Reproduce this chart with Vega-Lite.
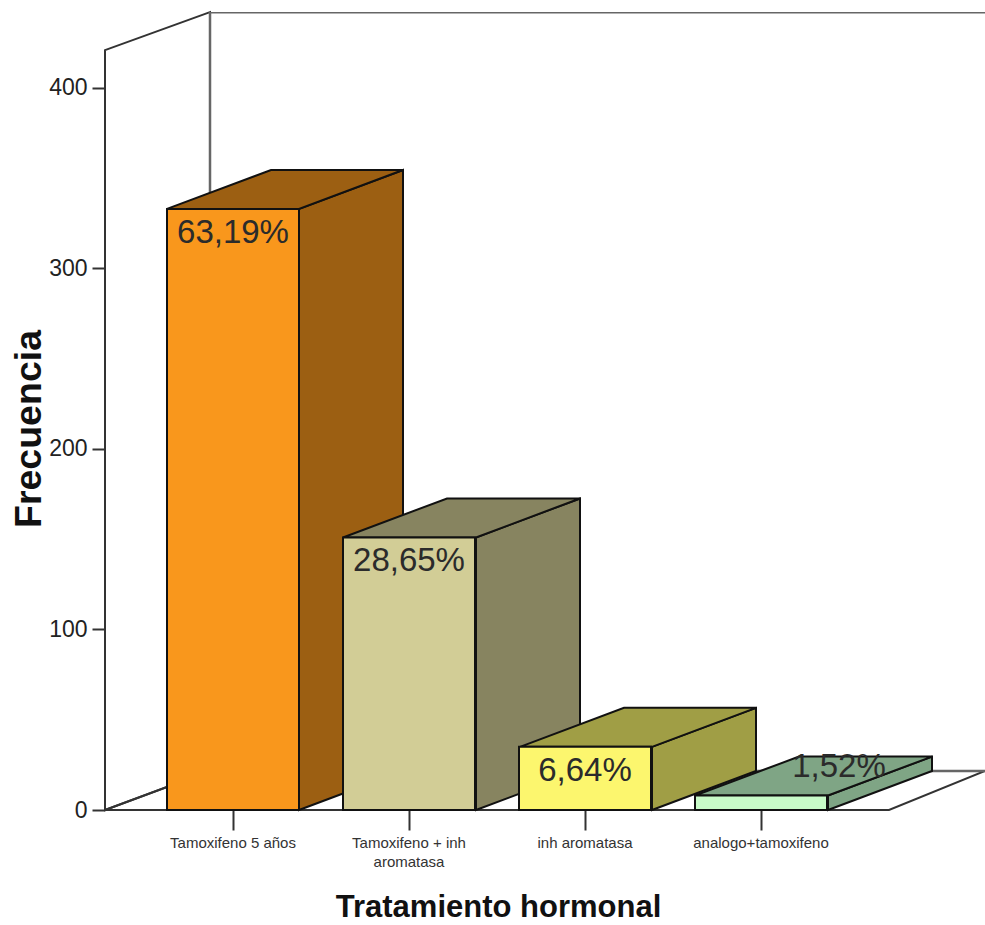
{"$schema":"https://vega.github.io/schema/vega-lite/v6.json","width":880,"height":798,"autosize":"none","padding":{"left":105,"top":12,"right":0,"bottom":115},"background":"white","config":{"view":{"stroke":null}},"datasets":{"bars":[{"t":"Tamoxifeno 5 años","n":333,"p":"63,19%","c":"#F9971C"},{"t":"Tamoxifeno + inh|aromatasa","n":151,"p":"28,65%","c":"#D2CD96"},{"t":"inh aromatasa","n":35,"p":"6,64%","c":"#FCF66E"},{"t":"analogo+tamoxifeno","n":8,"p":"1,52%","c":"#C8FBC8"}],"leftwall":[{"x":0,"lo":0,"hi":421},{"x":105,"lo":21.6,"hi":442}],"backwall":[{"x":105,"lo":21.6,"hi":442},{"x":885,"lo":21.6,"hi":442}],"floor":[{"x":0,"lo":0,"hi":0},{"x":105,"lo":0,"hi":21.6},{"x":784,"lo":0,"hi":21.6},{"x":880,"lo":21.6,"hi":21.6}],"faces":[{"b":"1s","x":194,"lo":0,"hi":333,"f":"#9C5F12"},{"b":"1s","x":298,"lo":21.6,"hi":354.6,"f":"#9C5F12"},{"b":"1t","x":62,"lo":333,"hi":333,"f":"#9C5F12"},{"b":"1t","x":166,"lo":333,"hi":354.6,"f":"#9C5F12"},{"b":"1t","x":194,"lo":333,"hi":354.6,"f":"#9C5F12"},{"b":"1t","x":298,"lo":354.6,"hi":354.6,"f":"#9C5F12"},{"b":"2s","x":371,"lo":0,"hi":151,"f":"#878460"},{"b":"2s","x":475,"lo":21.6,"hi":172.6,"f":"#878460"},{"b":"2t","x":238,"lo":151,"hi":151,"f":"#878460"},{"b":"2t","x":342,"lo":151,"hi":172.6,"f":"#878460"},{"b":"2t","x":371,"lo":151,"hi":172.6,"f":"#878460"},{"b":"2t","x":475,"lo":172.6,"hi":172.6,"f":"#878460"},{"b":"3s","x":547,"lo":0,"hi":35,"f":"#A09E45"},{"b":"3s","x":651,"lo":21.6,"hi":56.6,"f":"#A09E45"},{"b":"3t","x":415,"lo":35,"hi":35,"f":"#A09E45"},{"b":"3t","x":519,"lo":35,"hi":56.6,"f":"#A09E45"},{"b":"3t","x":547,"lo":35,"hi":56.6,"f":"#A09E45"},{"b":"3t","x":651,"lo":56.6,"hi":56.6,"f":"#A09E45"},{"b":"4s","x":723,"lo":0,"hi":8,"f":"#7FA585"},{"b":"4s","x":827,"lo":21.6,"hi":29.6,"f":"#7FA585"},{"b":"4t","x":590,"lo":8,"hi":8,"f":"#7FA585"},{"b":"4t","x":694,"lo":8,"hi":29.6,"f":"#7FA585"},{"b":"4t","x":723,"lo":8,"hi":29.6,"f":"#7FA585"},{"b":"4t","x":827,"lo":29.6,"hi":29.6,"f":"#7FA585"}]},"resolve":{"scale":{"x":"independent"},"axis":{"x":"independent"}},"layer":[{"data":{"name":"floor"},"mark":{"type":"area","fill":"white","stroke":"#333","strokeWidth":2},"encoding":{"x":{"field":"x","type":"quantitative","scale":{"domain":[0,880],"range":[0,880]},"axis":null},"y":{"field":"lo","type":"quantitative","scale":{"domain":[0,442.1],"nice":false},"axis":{"values":[0,100,200,300,400],"title":"Frecuencia","titleFont":"Liberation Sans","titleFontSize":37.5,"titleFontWeight":"bold","titleColor":"#111","titleBaseline":"alphabetic","titleX":-65,"titleY":416.5,"labelFont":"Liberation Sans","labelFontSize":23,"labelColor":"#222","tickColor":"#333","tickWidth":2,"tickSize":13,"labelPadding":5,"grid":false,"domain":false}},"y2":{"field":"hi"}}},{"data":{"name":"leftwall"},"mark":{"type":"area","fillOpacity":0,"stroke":"#333","strokeWidth":2},"encoding":{"x":{"field":"x","type":"quantitative","scale":{"domain":[0,880],"range":[0,880]},"axis":null},"y":{"field":"lo","type":"quantitative"},"y2":{"field":"hi"}}},{"data":{"name":"backwall"},"mark":{"type":"area","fillOpacity":0,"stroke":"#666","strokeWidth":2.5,"clip":true},"encoding":{"x":{"field":"x","type":"quantitative","scale":{"domain":[0,880],"range":[0,880]},"axis":null},"y":{"field":"lo","type":"quantitative"},"y2":{"field":"hi"}}},{"data":{"name":"faces"},"mark":{"type":"area","stroke":"#111","strokeWidth":2},"encoding":{"x":{"field":"x","type":"quantitative","scale":{"domain":[0,880],"range":[0,880]},"axis":null},"y":{"field":"lo","type":"quantitative"},"y2":{"field":"hi"},"detail":{"field":"b"},"fill":{"field":"f","type":"nominal","scale":null}}},{"data":{"name":"bars"},"mark":{"type":"bar","stroke":"#111","strokeWidth":2},"encoding":{"x":{"field":"t","type":"nominal","sort":null,"scale":{"domain":["Tamoxifeno 5 años","Tamoxifeno + inh|aromatasa","inh aromatasa","analogo+tamoxifeno"],"range":[40,744],"paddingInner":0.25,"paddingOuter":0.125},"axis":{"title":"Tratamiento hormonal","titleFont":"Liberation Sans","titleFontSize":31,"titleFontWeight":"bold","titleColor":"#111","titleBaseline":"alphabetic","titleX":393,"titleY":106,"labelAngle":0,"labelFont":"Liberation Sans","labelFontSize":15,"labelLineHeight":19,"labelColor":"#333","labelExpr":"split(datum.label,'|')","labelPadding":5,"tickColor":"#333","tickWidth":2,"tickSize":20,"domain":false,"labelLimit":300}},"y":{"field":"n","type":"quantitative"},"fill":{"field":"c","type":"nominal","scale":null}}},{"data":{"name":"bars"},"transform":[{"filter":"datum.n>10"}],"mark":{"type":"text","font":"Liberation Sans","fontSize":33,"baseline":"middle","dy":24,"color":"#2b2b2b"},"encoding":{"x":{"field":"t","type":"nominal","sort":null,"scale":{"domain":["Tamoxifeno 5 años","Tamoxifeno + inh|aromatasa","inh aromatasa","analogo+tamoxifeno"],"range":[40,744],"paddingInner":0.25,"paddingOuter":0.125},"axis":null},"y":{"field":"n","type":"quantitative"},"text":{"field":"p"}}},{"data":{"name":"bars"},"transform":[{"filter":"datum.n<10"}],"mark":{"type":"text","font":"Liberation Sans","fontSize":33,"baseline":"middle","dx":78,"dy":-29,"color":"#2b2b2b"},"encoding":{"x":{"field":"t","type":"nominal","sort":null,"scale":{"domain":["Tamoxifeno 5 años","Tamoxifeno + inh|aromatasa","inh aromatasa","analogo+tamoxifeno"],"range":[40,744],"paddingInner":0.25,"paddingOuter":0.125},"axis":null},"y":{"field":"n","type":"quantitative"},"text":{"field":"p"}}}]}
